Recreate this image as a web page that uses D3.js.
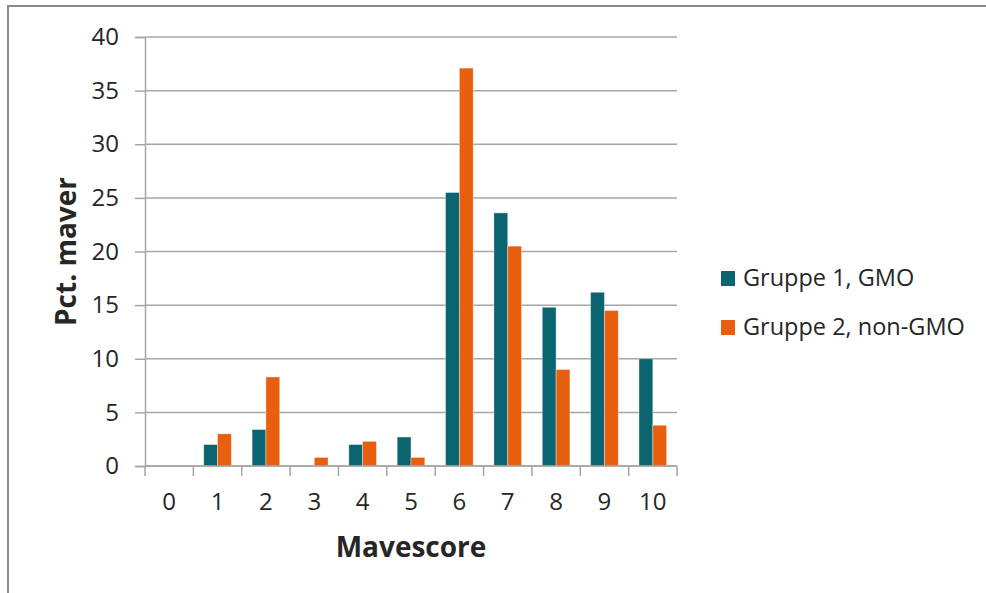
<!DOCTYPE html>
<html>
<head>
<meta charset="utf-8">
<script src="https://cdn.jsdelivr.net/npm/d3@7"></script>
<style>
  html, body { margin: 0; padding: 0; background: #fff; }
  svg { display: block; }
  text { font-family: "Open Sans", "Liberation Sans", sans-serif; fill: #262626; }
</style>
</head>
<body>
<svg id="chart" width="986" height="593"></svg>
<script>
// Mavescore distribution per group (percent of stomachs)
const categories = ["0", "1", "2", "3", "4", "5", "6", "7", "8", "9", "10"];
const seriesNames = ["Gruppe 1, GMO", "Gruppe 2, non-GMO"];
const gruppe1 = [0, 2.0, 3.4, 0, 2.0, 2.7, 25.5, 23.6, 14.8, 16.2, 10.0];
const gruppe2 = [0, 3.0, 8.3, 0.8, 2.3, 0.8, 37.1, 20.5, 9.0, 14.5, 3.8];
const yTicks = [0, 5, 10, 15, 20, 25, 30, 35, 40];
const colors = ["#0B6570", "#E8600F"];

const svg = d3.select("#chart");
const plot = { left: 145, right: 677, top: 37, bottom: 466 };

// outer chart frame (only top and left edges fall inside the window)
svg.append("rect")
  .attr("x", 8).attr("y", 6)
  .attr("width", 1000).attr("height", 620)
  .attr("fill", "none").attr("stroke", "#8a8a8a").attr("stroke-width", 2);

const x = d3.scaleBand().domain(categories).range([plot.left, plot.right]).padding(0);
const xSub = d3.scaleBand().domain(seriesNames).range([0, x.bandwidth()])
  .paddingInner(0).paddingOuter(0.75);
const y = d3.scaleLinear().domain([0, 40]).range([plot.bottom, plot.top]);

// horizontal gridlines
svg.append("g").selectAll("line").data(yTicks).join("line")
  .attr("x1", plot.left).attr("x2", plot.right)
  .attr("y1", d => y(d)).attr("y2", d => y(d))
  .attr("stroke", "#a6a6a6").attr("stroke-width", 1.5);

// y axis
const yAxis = svg.append("g")
  .attr("transform", `translate(${plot.left},0)`)
  .call(d3.axisLeft(y).tickValues(yTicks).tickSize(10).tickPadding(16));
yAxis.select(".domain").attr("stroke", "#a6a6a6").attr("stroke-width", 1.5);
yAxis.selectAll(".tick line").attr("stroke", "#a6a6a6").attr("stroke-width", 1.5);
yAxis.selectAll(".tick text")
  .style("font-family", '"Open Sans", sans-serif')
  .style("font-size", "24px").attr("fill", "#262626");

// bars
const rows = categories.map((c, i) => ({ cat: c, values: [gruppe1[i], gruppe2[i]] }));
const groups = svg.append("g").selectAll("g").data(rows).join("g")
  .attr("transform", d => `translate(${x(d.cat)},0)`);
groups.selectAll("rect")
  .data(d => d.values.map((v, j) => ({ name: seriesNames[j], value: v, color: colors[j] })))
  .join("rect")
  .filter(d => d.value > 0)
  .attr("x", d => xSub(d.name))
  .attr("width", xSub.bandwidth())
  .attr("y", d => y(d.value))
  .attr("height", d => y(0) - y(d.value))
  .attr("fill", d => d.color)
  .attr("stroke", "rgba(255,255,255,0.45)")
  .attr("stroke-width", 0.8);

// x axis baseline, boundary ticks and category labels
const xAxis = svg.append("g").attr("transform", `translate(0,${plot.bottom})`);
xAxis.append("line")
  .attr("x1", plot.left).attr("x2", plot.right)
  .attr("stroke", "#a6a6a6").attr("stroke-width", 1.5);
const boundaries = categories.map(c => x(c)).concat([x(categories[categories.length - 1]) + x.bandwidth()]);
xAxis.selectAll("line.tk").data(boundaries).join("line").attr("class", "tk")
  .attr("x1", d => d).attr("x2", d => d)
  .attr("y1", 0).attr("y2", 10)
  .attr("stroke", "#a6a6a6").attr("stroke-width", 1.5);
xAxis.selectAll("text").data(categories).join("text")
  .attr("x", d => x(d) + x.bandwidth() / 2)
  .attr("y", 44)
  .attr("text-anchor", "middle")
  .style("font-size", "24px")
  .text(d => d);

// axis titles
svg.append("text")
  .attr("x", (plot.left + plot.right) / 2).attr("y", 557)
  .attr("text-anchor", "middle")
  .style("font-size", "28px").style("font-weight", "bold").attr("fill", "#000")
  .text("Mavescore");
svg.append("text")
  .attr("transform", `translate(76,${(plot.top + plot.bottom) / 2}) rotate(-90)`)
  .attr("text-anchor", "middle")
  .style("font-size", "28px").style("font-weight", "bold").attr("fill", "#000")
  .text("Pct. maver");

// legend
const legend = svg.append("g").attr("transform", "translate(721,271)");
const items = legend.selectAll("g").data(seriesNames).join("g")
  .attr("transform", (d, i) => `translate(0,${i * 49})`);
items.append("rect").attr("width", 14).attr("height", 15)
  .attr("fill", (d, i) => colors[i]);
items.append("text").attr("x", 22).attr("y", 15)
  .style("font-size", "23.5px")
  .text(d => d);
</script>
</body>
</html>
